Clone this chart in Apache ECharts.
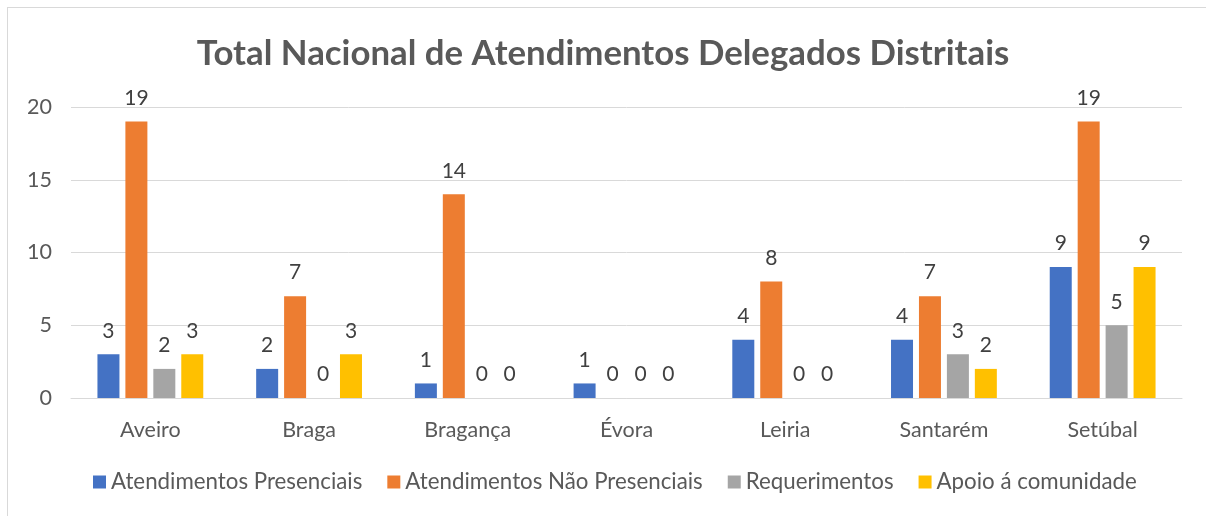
<!DOCTYPE html>
<html>
<head>
<meta charset="utf-8">
<script src="https://cdn.jsdelivr.net/npm/echarts@6/dist/echarts.min.js"></script>
<style>
  html, body { margin: 0; padding: 0; background: #fff; }
  #frame { position: absolute; left: 7px; top: 7px; width: 1210px; height: 520px; border: 1px solid #D9D9D9; }
  #chart { position: absolute; left: 0; top: 0; width: 1206px; height: 516px; }
</style>
</head>
<body>
<div id="frame"></div>
<div id="chart"></div>
<script>
let categories = ["Aveiro", "Braga", "Bragança", "Évora", "Leiria", "Santarém", "Setúbal"];
let seriesNames = ["Atendimentos Presenciais", "Atendimentos Não Presenciais", "Requerimentos", "Apoio á comunidade"];
let presenciais = [3, 2, 1, 1, 4, 4, 9];
let naoPresenciais = [19, 7, 14, 0, 8, 7, 19];
let requerimentos = [2, 0, 0, 0, 0, 3, 5];
let apoio = [3, 3, 0, 0, 0, 2, 9];
let colors = ["#4472C4", "#ED7D31", "#A5A5A5", "#FFC000"];

let font = "Lato, 'Open Sans', sans-serif";
let chartContainer = document.getElementById("chart");
let myChart = echarts.init(chartContainer);

function makeSeries(name, data, color) {
  return {
    name: name,
    type: 'bar',
    data: data,
    barWidth: 22,
    barGap: '27%',
    itemStyle: { color: color },
    label: {
      show: true,
      position: 'top',
      distance: 13,
      color: '#404040',
      fontFamily: font,
      fontSize: 21
    }
  };
}

let option = {
  animation: false,
  title: {
    text: 'Total Nacional de Atendimentos Delegados Distritais',
    left: 'center',
    top: 31,
    textStyle: { color: '#595959', fontFamily: font, fontWeight: 'bold', fontSize: 34.8 }
  },
  legend: {
    bottom: 18,
    left: 88,
    itemWidth: 13,
    itemHeight: 13,
    itemGap: 25,
    icon: 'rect',
    textStyle: { color: '#595959', fontFamily: font, fontSize: 22.3 },
    data: seriesNames
  },
  grid: { left: 71, right: 24, top: 107, bottom: 118 },
  xAxis: {
    type: 'category',
    data: categories,
    axisLine: { lineStyle: { color: '#D9D9D9', width: 1 } },
    axisTick: { show: false },
    axisLabel: { color: '#595959', fontFamily: font, fontSize: 21.5, margin: 21 }
  },
  yAxis: {
    type: 'value',
    min: 0,
    max: 20,
    interval: 5,
    axisLabel: { color: '#595959', fontFamily: font, fontSize: 21.5, margin: 19 },
    splitLine: { lineStyle: { color: '#D9D9D9', width: 1 } }
  },
  series: [
    makeSeries(seriesNames[0], presenciais, colors[0]),
    makeSeries(seriesNames[1], naoPresenciais, colors[1]),
    makeSeries(seriesNames[2], requerimentos, colors[2]),
    makeSeries(seriesNames[3], apoio, colors[3])
  ]
};

myChart.setOption(option);
</script>
</body>
</html>
